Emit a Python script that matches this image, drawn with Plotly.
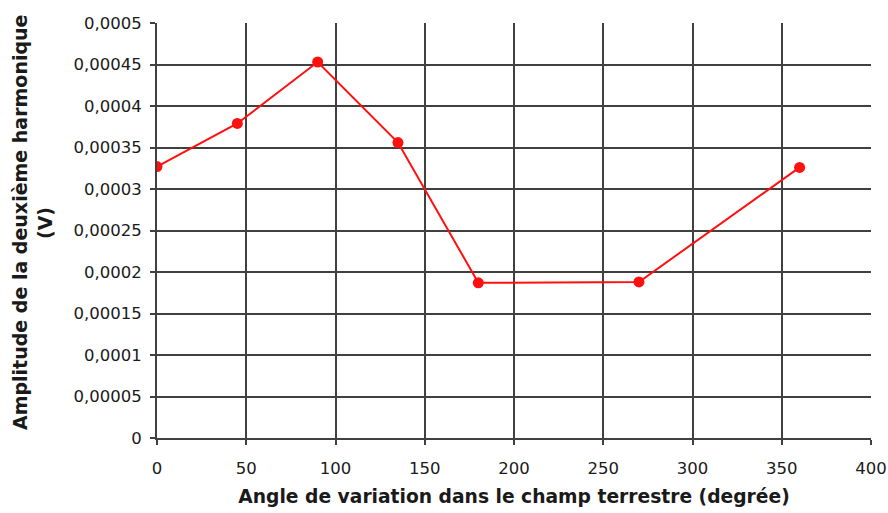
import plotly.graph_objects as go

# Measured amplitude of the second harmonic vs. angle in the Earth's field
angles = [0, 45, 90, 135, 180, 270, 360]
amplitudes = [0.000327, 0.000379, 0.000453, 0.000356, 0.000187, 0.000188, 0.000326]

x_ticks = [0, 50, 100, 150, 200, 250, 300, 350, 400]
y_ticks = [0, 0.00005, 0.0001, 0.00015, 0.0002, 0.00025, 0.0003, 0.00035, 0.0004, 0.00045, 0.0005]
y_tick_text = ["0", "0,00005", "0,0001", "0,00015", "0,0002", "0,00025",
               "0,0003", "0,00035", "0,0004", "0,00045", "0,0005"]

grid_color = "#404040"
font_family = "DejaVu Sans, Verdana, sans-serif"
text_color = "#1a1a1a"

W, H = 888, 513
ML, MR, MT, MB = 157, 17, 23, 75
plot_w = W - ML - MR

fig = go.Figure()
fig.add_trace(go.Scatter(
    x=angles, y=amplitudes, mode="lines+markers",
    line=dict(color="#ff1010", width=2),
    marker=dict(color="#ff1010", size=11, symbol="circle"),
    showlegend=False,
))

axis_common = dict(
    showgrid=True, gridcolor=grid_color, gridwidth=2,
    showline=True, linecolor=grid_color, linewidth=2,
    ticks="outside", ticklen=5, tickcolor=grid_color, tickwidth=2,
    tickfont=dict(size=16.5, family=font_family, color=text_color),
    zeroline=False, automargin=False,
)

fig.update_layout(
    width=W, height=H,
    margin=dict(l=ML, r=MR, t=MT, b=MB),
    paper_bgcolor="white", plot_bgcolor="white",
    font=dict(family=font_family, color=text_color),
    xaxis=dict(
        range=[0, 400], tickvals=x_ticks, ticktext=[str(v) for v in x_ticks],
        ticklabelstandoff=9,
        title=dict(text="<b>Angle de variation dans le champ terrestre (degrée)</b>",
                   font=dict(size=18.7, family=font_family, color=text_color), standoff=13),
        **axis_common,
    ),
    yaxis=dict(
        range=[0, 0.0005], tickvals=y_ticks, ticktext=y_tick_text,
        ticklabelstandoff=5,
        **axis_common,
    ),
    annotations=[
        dict(text="<b>Amplitude de la deuxième harmonique</b>", textangle=-90,
             xref="paper", yref="paper", x=(20 - ML) / plot_w, y=0.518,
             xanchor="center", yanchor="middle", showarrow=False,
             font=dict(size=19, family=font_family, color=text_color)),
        dict(text="<b>(V)</b>", textangle=-90,
             xref="paper", yref="paper", x=(45 - ML) / plot_w, y=0.518,
             xanchor="center", yanchor="middle", showarrow=False,
             font=dict(size=19, family=font_family, color=text_color)),
    ],
)

fig.write_html("out.html")
